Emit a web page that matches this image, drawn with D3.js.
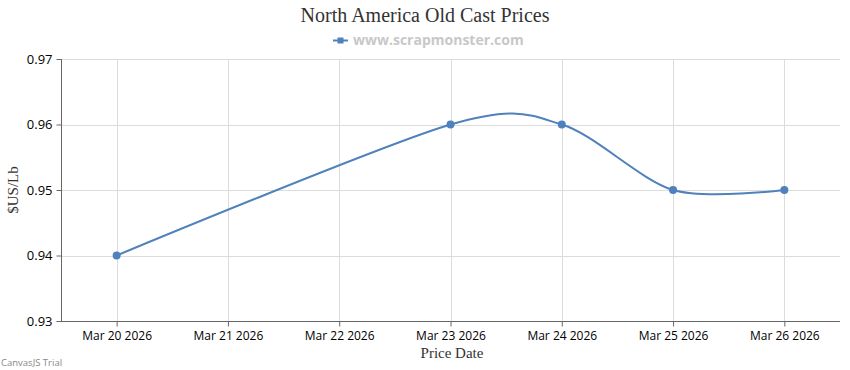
<!DOCTYPE html>
<html><head><meta charset="utf-8">
<script src="https://cdn.jsdelivr.net/npm/d3@7"></script>
<style>body{margin:0;background:#fff}svg{display:block}</style>
</head><body><svg id="c" width="850" height="370"></svg>
<script>
const dates = ["2026-03-20","2026-03-23","2026-03-24","2026-03-25","2026-03-26"];
const prices = [0.94, 0.96, 0.96, 0.95, 0.95];
const tickDates = ["2026-03-20","2026-03-21","2026-03-22","2026-03-23","2026-03-24","2026-03-25","2026-03-26"];
const yTicks = [0.93, 0.94, 0.95, 0.96, 0.97];
const title = "North America Old Cast Prices";
const legendLabel = "www.scrapmonster.com";

const parse = d3.timeParse("%Y-%m-%d");
const fmt = d3.timeFormat("%b %d %Y");
const svg = d3.select("#c");
const L = 61, R = 840, T = 59, B = 321;
const color = "#4F81BC";

const x = d3.scaleTime()
  .domain([d3.timeHour.offset(parse(tickDates[0]), -11.85), d3.timeHour.offset(parse(tickDates[6]), 12.3)])
  .range([L, R]);
const y = d3.scaleLinear().domain([0.93, 0.97]).range([B, T]);

// grid
svg.append("g").selectAll("line").data(yTicks.slice(1)).join("line")
  .attr("x1", L).attr("x2", R).attr("y1", d => Math.round(y(d)) + 0.5).attr("y2", d => Math.round(y(d)) + 0.5)
  .attr("stroke", "#dcdcdc");
svg.append("g").selectAll("line").data(tickDates).join("line")
  .attr("x1", d => Math.round(x(parse(d))) + 0.5).attr("x2", d => Math.round(x(parse(d))) + 0.5)
  .attr("y1", T).attr("y2", B).attr("stroke", "#dcdcdc");

// axes
const xAxis = d3.axisBottom(x).tickValues(tickDates.map(parse)).tickFormat(fmt).tickSize(5).tickPadding(5);
const gx = svg.append("g").attr("transform", `translate(0,${B + 0.5})`).call(xAxis);
gx.select(".domain").attr("stroke", "#666").attr("d", `M${L},0H${R}`);
gx.selectAll(".tick line").attr("stroke", "#666");
gx.selectAll("text").attr("fill", "#000").style("font", "12px 'Open Sans', sans-serif");

const yAxis = d3.axisLeft(y).tickValues(yTicks).tickFormat(d3.format(".2f")).tickSize(5).tickPadding(4);
const gy = svg.append("g").attr("transform", `translate(${L + 0.5},0)`).call(yAxis);
gy.select(".domain").attr("stroke", "#666").attr("d", `M0,${T}V${B}`);
gy.selectAll(".tick line").attr("stroke", "#666");
gy.selectAll("text").attr("fill", "#000").style("font", "13px 'Open Sans', sans-serif");

// line
const pts = dates.map((d, i) => [x(parse(d)), y(prices[i])]);
svg.append("path").attr("d", d3.line().curve(d3.curveCardinal.tension(0.12))(pts))
  .attr("fill", "none").attr("stroke", color).attr("stroke-width", 2);
svg.append("g").selectAll("circle").data(pts).join("circle")
  .attr("cx", d => d[0]).attr("cy", d => d[1]).attr("r", 4).attr("fill", color);

// titles
svg.append("text").attr("x", 425).attr("y", 22).attr("text-anchor", "middle")
  .style("font", "20px 'Liberation Serif', serif").attr("fill", "#333").text(title);
svg.append("text").attr("x", 452).attr("y", 358).attr("text-anchor", "middle")
  .style("font", "15px 'Liberation Serif', serif").attr("fill", "#333").text("Price Date");
svg.append("text").attr("transform", "translate(18,190) rotate(-90)").attr("text-anchor", "middle")
  .style("font", "15px 'Liberation Serif', serif").attr("fill", "#333").text("$US/Lb");

// legend
svg.append("line").attr("x1", 333).attr("x2", 348).attr("y1", 40.5).attr("y2", 40.5).attr("stroke", color).attr("stroke-width", 2);
svg.append("rect").attr("x", 337.5).attr("y", 37.5).attr("width", 6).attr("height", 6).attr("fill", color);
svg.append("text").attr("x", 353).attr("y", 45).style("font", "bold 14px 'Open Sans', sans-serif")
  .attr("fill", "#c8c8c8").text(legendLabel);

svg.append("text").attr("x", 1).attr("y", 366).style("font", "9.5px 'Open Sans', sans-serif").attr("fill", "#888").text("CanvasJS Trial");
</script></body></html>
